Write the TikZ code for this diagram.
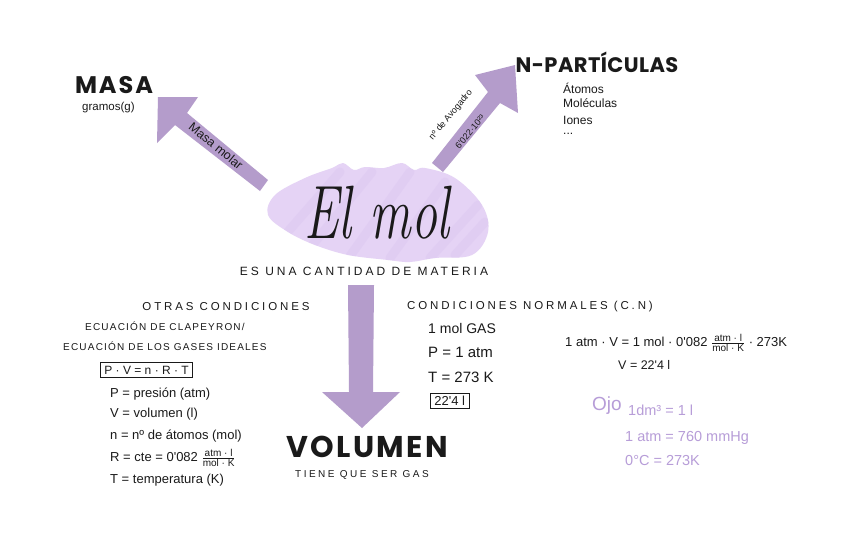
\documentclass[tikz,border=0pt]{standalone}
\usepackage{fontspec}
\usepackage{graphicx}
\newfontfamily\hand{Liberation Sans}
\newfontfamily\capsfont{Liberation Sans}[LetterSpace=25]
\newfontfamily\capsnarrow{Liberation Sans}[LetterSpace=12]
\newfontfamily\titlefont{Poppins}[LetterSpace=8]
\newfontfamily\titletight{Poppins}[LetterSpace=2]
\definecolor{arrowc}{HTML}{B49CCB}
\definecolor{blobc}{HTML}{E5D3F5}
\definecolor{blobd}{HTML}{D8C2EF}
\definecolor{ojoc}{HTML}{B79DD8}
\definecolor{inkc}{HTML}{1A1A1A}
\begin{document}
\begin{tikzpicture}[x=1pt,y=-1pt,
  bigarrow/.style={fill=arrowc,draw=none},
  brush/.style={draw=blobd,line width=9pt,line cap=round,opacity=0.35},
  title/.style={font=\titlefont\bfseries\fontsize{#1}{#1}\selectfont,inner sep=0,text=inkc},
  titlet/.style={font=\titletight\bfseries\fontsize{#1}{#1}\selectfont,inner sep=0,text=inkc},
  capslbl/.style={font=\capsfont\fontsize{#1}{#1}\selectfont,inner sep=0,text=inkc},
  caps2/.style={font=\capsnarrow\fontsize{#1}{#1}\selectfont,inner sep=0,text=inkc,anchor=west},
  hw/.style={font=\hand\fontsize{#1}{#1}\selectfont,inner sep=0,text=inkc,anchor=west},
  ojo/.style={font=\hand\fontsize{#1}{#1}\selectfont,inner sep=0,text=ojoc,anchor=west},
  boxed/.style={draw=inkc,line width=0.8pt,inner xsep=4pt,inner ysep=3pt}]
\useasboundingbox (0,0) rectangle (848,536);
\fill[white] (0,0) rectangle (848,536);

% lavender brush blob
\fill[blobc] plot[smooth cycle,tension=0.6] coordinates {
  (343,163) (354,170) (365,167) (384,168) (402,163) (414,170) (425,168)
  (455,178) (482,205) (488,232) (472,255) (435,258) (410,262) (388,260)
  (348,255) (315,245) (288,232) (268,215) (275,195) (305,178) (332,168)};
\begin{scope}
\clip plot[smooth cycle,tension=0.6] coordinates {
  (343,163) (354,170) (365,167) (384,168) (402,163) (414,170) (425,168)
  (455,178) (482,205) (488,232) (472,255) (435,258) (410,262) (388,260)
  (348,255) (315,245) (288,232) (268,215) (275,195) (305,178) (332,168)};
\draw[brush] (285,235) -- (340,172);
\draw[brush] (310,248) -- (372,172);
\draw[brush] (350,256) -- (410,172);
\draw[brush] (390,258) -- (445,182);
\draw[brush] (430,258) -- (478,205);
\draw[brush] (455,255) -- (485,222);
\end{scope}

% arrows
\fill[bigarrow] (158,97) -- (198,97) -- (187,113) -- (268,180) -- (260,191)
  -- (175,125) -- (157,143) -- cycle;
\fill[bigarrow] (515,65) -- (518,113) -- (500,103) -- (443,172) -- (432,163)
  -- (488,92) -- (475,75) -- cycle;
\fill[bigarrow] (348,285) -- (374,285) -- (373,392) -- (400,392) -- (362,428)
  -- (322,392) -- (349,392) -- cycle;

% arrow labels
\node[hw=12.5,anchor=center,rotate=-39] (masamolar) at (216,146) {Masa molar};
\node[hw=9,anchor=center,rotate=50] (avog) at (451,115) {nº de Avogadro};
\node[hw=9,anchor=center,rotate=50] (avnum) at (470,132) {6'022·10²³};

% centre
\node[inner sep=0,text=inkc] (elmol) at (377,213)
  {\scalebox{0.72}[1.05]{\rmfamily\itshape\fontsize{72}{72}\selectfont El mol}};
\node[capslbl=12] (cantidad) at (364,271) {ES UNA CANTIDAD DE MATERIA};

% masa
\node[title=24] (masa) at (114,85) {MASA};
\node[hw=11.5] (gramos) at (82,108) {gramos(g)};

% particulas
\node[titlet=21] (npart) at (597,62) {N-PARTÍCULAS};
\node[hw=12] (atomos) at (563,88) {Átomos};
\node[hw=12] (molec) at (563,103) {Moléculas};
\node[hw=12] (iones) at (563,120) {Iones};
\node[hw=12] (dots) at (563,134) {...};

% volumen
\node[title=30] (volumen) at (367,447) {VOLUMEN};
\node[capslbl=10] (tiene) at (362,475) {TIENE QUE SER GAS};

% otras condiciones
\node[capslbl=11.5] (otras) at (226,307) {OTRAS CONDICIONES};
\node[caps2=10] (ecu1) at (85,326) {ECUACIÓN DE CLAPEYRON/};
\node[caps2=10] (ecu2) at (63,346) {ECUACIÓN DE LOS GASES IDEALES};
\node[hw=12,boxed] (pvnrt) at (100,370) {P · V = n · R · T};
\node[hw=13] (l1) at (110,394) {P = presión (atm)};
\node[hw=13] (l2) at (110,414) {V = volumen (l)};
\node[hw=13] (l3) at (110,436) {n = nº de átomos (mol)};
\node[hw=13] (l4) at (110,458) {R = cte = 0'082
  $\frac{\hbox{\hand\fontsize{10}{10}\selectfont atm · l}}{\hbox{\hand\fontsize{10}{10}\selectfont mol · K}}$};
\node[hw=13] (l5) at (110,480) {T = temperatura (K)};

% condiciones normales
\node[capslbl=11.5] (cn) at (530,307) {CONDICIONES NORMALES (C.N)};
\node[hw=14] (mol1) at (428,328) {1 mol GAS};
\node[hw=15] (p1) at (428,352) {P = 1 atm};
\node[hw=15] (t1) at (428,377) {T = 273 K};
\node[hw=13,boxed] (v224) at (430,401) {22'4 l};

% formula
\node[hw=13] (form) at (565,343) {1 atm · V = 1 mol · 0'082
  $\frac{\hbox{\hand\fontsize{10}{10}\selectfont atm · l}}{\hbox{\hand\fontsize{10}{10}\selectfont mol · K}}$ · 273K};
\node[hw=12.5] (vres) at (618,365) {V = 22'4 l};

% ojo
\node[ojo=19] (ojotxt) at (592,406) {Ojo};
\node[ojo=14.5] (o1) at (628,410) {1dm³ = 1 l};
\node[ojo=14.5] (o2) at (625,438) {1 atm = 760 mmHg};
\node[ojo=14.5] (o3) at (625,460) {0°C = 273K};
\end{tikzpicture}
\end{document}
